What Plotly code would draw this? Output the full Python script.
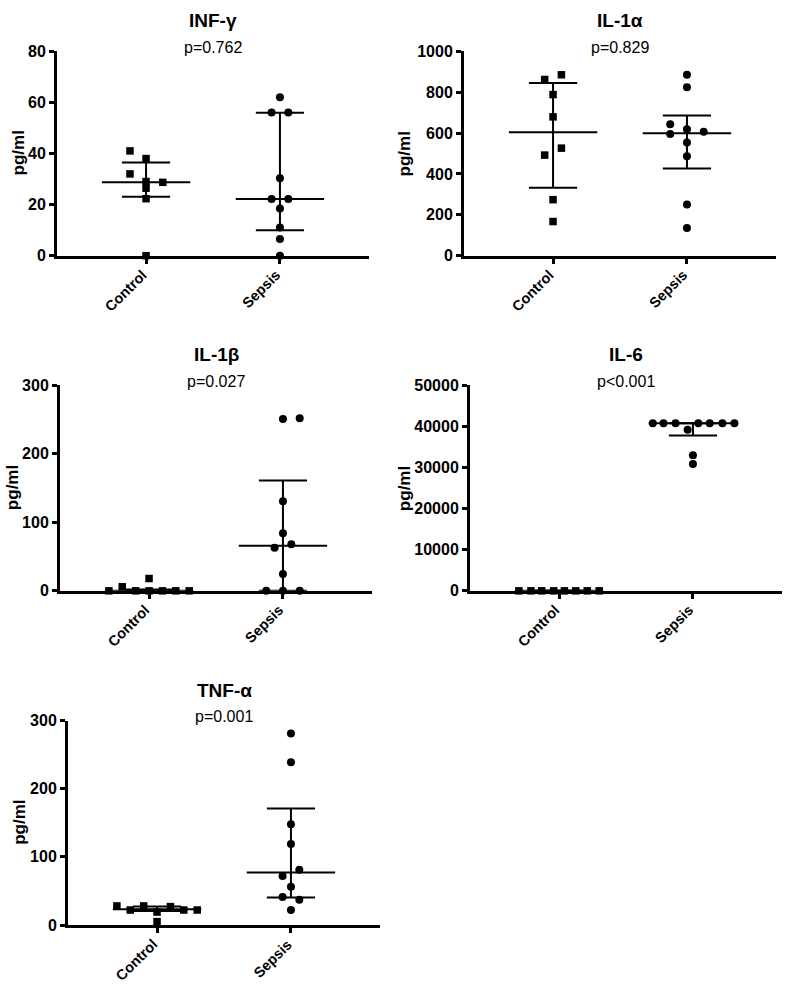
import plotly.graph_objects as go

W, H = 787, 992
FONT = "Liberation Sans, Arial, sans-serif"

groups = ["Control", "Sepsis"]

# ---------------- data ----------------
# INF-γ
inf_ctrl = [41, 38, 32, 28.7, 29, 26.4, 22.3, 0]
inf_ctrl_jit = [-0.12, 0, -0.12, 0.125, 0, 0, 0, 0]
inf_sep = [62, 56, 56, 30.3, 22.2, 22.2, 18.5, 11, 6.5, 0]
inf_sep_jit = [0, -0.0625, 0.0625, 0, -0.0625, 0.0625, 0, 0, 0, 0]
inf_median = [28.7, 22.2]
inf_q1 = [23.1, 10.0]
inf_q3 = [36.5, 55.9]
inf_ticks = [0, 20, 40, 60, 80]

# IL-1α
il1a_ctrl = [862, 885, 788, 679, 492, 526, 274, 167]
il1a_ctrl_jit = [-0.0625, 0.0625, 0, 0, -0.0625, 0.0625, 0, 0]
il1a_sep = [885, 824, 643, 595, 619, 606, 554, 486, 250, 135]
il1a_sep_jit = [0, 0, -0.125, -0.125, 0, 0.125, 0, 0, 0, 0]
il1a_median = [604, 599]
il1a_q1 = [332, 426]
il1a_q3 = [845, 686]
il1a_ticks = [0, 200, 400, 600, 800, 1000]

# IL-1β
il1b_ctrl = [0, 6, 0, 18, 0, 0, 0, 0]
il1b_ctrl_jit = [-0.3, -0.2, -0.1, 0, 0, 0.1, 0.2, 0.3]
il1b_sep = [251, 252, 131, 84, 63, 68, 24.5, 0, 0, 0]
il1b_sep_jit = [0, 0.125, 0, 0, -0.0625, 0.0625, 0, -0.125, 0, 0.125]
il1b_median = [0, 66]
il1b_q1 = [0, 0]
il1b_q3 = [2, 161]
il1b_ticks = [0, 100, 200, 300]

# IL-6
il6_ctrl = [0, 0, 0, 0, 0, 0, 0, 0]
il6_ctrl_jit = [-0.3, -0.21, -0.13, -0.04, 0.04, 0.125, 0.21, 0.3]
il6_sep = [40800, 40800, 40800, 39200, 40800, 40800, 40800, 40800, 33000, 30900]
il6_sep_jit = [-0.30, -0.22, -0.13, -0.04, 0.04, 0.125, 0.22, 0.31, 0, 0]
il6_median = [0, 40800]
il6_q1 = [0, 37800]
il6_q3 = [0, 40800]
il6_ticks = [0, 10000, 20000, 30000, 40000, 50000]

# TNF-α
tnf_ctrl = [28, 22, 28, 19, 5, 27, 22, 22]
tnf_ctrl_jit = [-0.3, -0.2, -0.1, 0, 0, 0.1, 0.2, 0.3]
tnf_sep = [281, 239, 148, 119, 72, 81, 56, 41, 37, 22]
tnf_sep_jit = [0, 0, 0, 0, -0.0625, 0.0625, 0, -0.0625, 0.0625, 0]
tnf_median = [23, 77]
tnf_q1 = [20.5, 40.5]
tnf_q3 = [27, 171]
tnf_ticks = [0, 100, 200, 300]

titles = ["INF-γ", "IL-1α", "IL-1β", "IL-6", "TNF-α"]
pvalues = ["p=0.762", "p=0.829", "p=0.027", "p<0.001", "p=0.001"]
ylabel = "pg/ml"

panels = [
    (inf_ctrl, inf_ctrl_jit, inf_sep, inf_sep_jit, inf_median, inf_q1, inf_q3, inf_ticks),
    (il1a_ctrl, il1a_ctrl_jit, il1a_sep, il1a_sep_jit, il1a_median, il1a_q1, il1a_q3, il1a_ticks),
    (il1b_ctrl, il1b_ctrl_jit, il1b_sep, il1b_sep_jit, il1b_median, il1b_q1, il1b_q3, il1b_ticks),
    (il6_ctrl, il6_ctrl_jit, il6_sep, il6_sep_jit, il6_median, il6_q1, il6_q3, il6_ticks),
    (tnf_ctrl, tnf_ctrl_jit, tnf_sep, tnf_sep_jit, tnf_median, tnf_q1, tnf_q3, tnf_ticks),
]

# ---------------- layout geometry (pixels) ----------------
# left, right, top, bottom of each plot area; y-label x centre
boxes = [
    (57, 369, 44, 252, 18),
    (464, 776, 44, 252, 404),
    (60, 372, 384, 593, 12),
    (470, 782, 384, 593, 404),
    (68, 380, 725, 933, 20),
]

MED_HW = 0.33
CAP_HW = 0.18
XR = [-0.665, 1.665]

fig = go.Figure()
layout = dict(
    width=W, height=H, margin=dict(l=0, r=0, t=0, b=0),
    paper_bgcolor="white", plot_bgcolor="white", showlegend=False,
    font=dict(family=FONT, color="black"),
)
annotations = []

for k, (ctrl, cj, sep, sj, med, q1, q3, ticks) in enumerate(panels):
    n = "" if k == 0 else str(k + 1)
    xa, ya = "x" + n, "y" + n
    x0, x1, t, b, ylx = boxes[k]

    # summary lines (median + interquartile range)
    lx, ly = [], []
    for i in range(len(groups)):
        lx += [i - MED_HW, i + MED_HW, None, i, i, None,
               i - CAP_HW, i + CAP_HW, None, i - CAP_HW, i + CAP_HW, None]
        ly += [med[i], med[i], None, q1[i], q3[i], None,
               q1[i], q1[i], None, q3[i], q3[i], None]
    fig.add_trace(go.Scatter(x=lx, y=ly, mode="lines", xaxis=xa, yaxis=ya,
                             line=dict(color="black", width=2),
                             cliponaxis=False, hoverinfo="skip"))

    fig.add_trace(go.Scatter(x=[0 + d for d in cj], y=ctrl, mode="markers",
                             xaxis=xa, yaxis=ya, cliponaxis=False,
                             marker=dict(symbol="square", size=7.5, color="black")))
    fig.add_trace(go.Scatter(x=[1 + d for d in sj], y=sep, mode="markers",
                             xaxis=xa, yaxis=ya, cliponaxis=False,
                             marker=dict(symbol="circle", size=8, color="black")))

    layout["xaxis" + n] = dict(
        domain=[x0 / W, x1 / W], anchor=ya, range=XR,
        tickvals=[0, 1], showticklabels=False,
        ticks="outside", ticklen=5, tickwidth=2.5, tickcolor="black",
        showline=True, linewidth=3, linecolor="black",
        showgrid=False, zeroline=False, fixedrange=True,
    )
    layout["yaxis" + n] = dict(
        domain=[1 - b / H, 1 - t / H], anchor=xa,
        range=[ticks[0], ticks[-1]], tickvals=ticks,
        ticktext=[str(v) for v in ticks],
        tickfont=dict(size=16, weight="bold", family=FONT),
        ticks="outside", ticklen=5, tickwidth=2.5, tickcolor="black",
        showline=True, linewidth=3, linecolor="black",
        showgrid=False, zeroline=False, fixedrange=True,
    )

    # category labels (rotated, end of text just below the tick)
    for i, g in enumerate(groups):
        annotations.append(dict(text="<b>" + g + "</b>", x=i, xref=xa, xshift=5,
                                y=1 - (b + 10) / H, yref="paper", borderpad=0,
                                xanchor="right", yanchor="top", textangle=-45,
                                showarrow=False, font=dict(size=14.5, family=FONT)))

    cx = (x0 + x1) / 2 / W
    annotations.append(dict(text="<b>" + titles[k] + "</b>", x=cx, y=1 - (t - 31) / H,
                            xref="paper", yref="paper", xanchor="center", yanchor="middle",
                            showarrow=False, font=dict(size=19, family=FONT)))
    annotations.append(dict(text=pvalues[k], x=cx, y=1 - (t - 4) / H,
                            xref="paper", yref="paper", xanchor="center", yanchor="middle",
                            showarrow=False, font=dict(size=16, family=FONT)))
    annotations.append(dict(text="<b>" + ylabel + "</b>", x=ylx / W, y=1 - (t + b) / 2 / H,
                            xref="paper", yref="paper", xanchor="center", yanchor="middle",
                            textangle=-90, showarrow=False, font=dict(size=17, family=FONT)))

layout["annotations"] = annotations
fig.update_layout(**layout)

page_fix = ("document.documentElement.style.margin='0';"
            "document.body.style.margin='0';"
            "document.body.style.lineHeight='0';"
            "document.documentElement.style.overflow='hidden';"
            "document.body.style.overflow='hidden';")
fig.write_html("out.html", config={"displayModeBar": False}, post_script=page_fix)
